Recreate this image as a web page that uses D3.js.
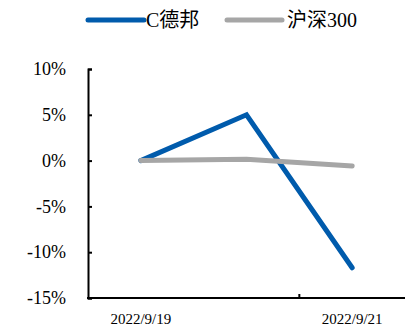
<!DOCTYPE html>
<html>
<head>
<meta charset="utf-8">
<script src="https://cdn.jsdelivr.net/npm/d3@7"></script>
<style>
  html, body { margin: 0; padding: 0; background: #fff; }
  svg { display: block; }
  svg text { font-family: "Liberation Serif", "Times New Roman", "Noto Sans CJK SC", serif; }
</style>
</head>
<body>
<svg id="chart" width="408" height="326"></svg>
<script>
// Trading days and cumulative returns (%)
const dates = ["2022/9/19", "2022/9/20", "2022/9/21"];
const debangValues = [0, 5.0, -11.7];
const hs300Values = [0, 0.15, -0.6];
const seriesNames = ["C德邦", "沪深300"];
const seriesColors = ["#005bac", "#a6a6a6"];
const yTicks = [10, 5, 0, -5, -10, -15];
const xLabelDates = ["2022/9/19", "2022/9/21"];

const svg = d3.select("#chart");
const margin = { left: 88, right: 3, top: 69, bottom: 28 };
const W = 408, H = 326;

const x = d3.scaleBand().domain(dates).range([margin.left, W - margin.right]);
const y = d3.scaleLinear().domain([-15, 10]).range([H - margin.bottom, margin.top]);

// y axis
const yAxis = svg.append("g")
  .attr("transform", `translate(${margin.left},0)`)
  .call(d3.axisLeft(y).tickValues(yTicks).tickFormat(d => d + "%").tickSize(-4).tickPadding(22));
yAxis.attr("font-family", null).attr("font-size", null);
yAxis.select(".domain").attr("stroke", "#000").attr("stroke-width", 2);
yAxis.selectAll(".tick line").attr("stroke", "#000").attr("stroke-width", 2);
yAxis.selectAll(".tick text")
  .attr("fill", "#000")
  .style("font-family", "'Liberation Serif', 'Times New Roman', serif")
  .style("font-size", "18px");

// x axis
const xAxisY = y(-15);
svg.append("line")
  .attr("x1", margin.left - 1).attr("x2", W - margin.right)
  .attr("y1", xAxisY).attr("y2", xAxisY)
  .attr("stroke", "#000").attr("stroke-width", 2);
// single tick mark at the boundary between the last two days
const tickX = x(dates[2]);
svg.append("line")
  .attr("x1", tickX).attr("x2", tickX)
  .attr("y1", xAxisY).attr("y2", xAxisY - 4)
  .attr("stroke", "#000").attr("stroke-width", 2);
svg.selectAll("text.xlab")
  .data(xLabelDates)
  .join("text")
  .attr("class", "xlab")
  .attr("x", d => x(d) + x.bandwidth() / 2)
  .attr("y", xAxisY + 26)
  .attr("text-anchor", "middle")
  .style("font-size", "15px")
  .attr("fill", "#000")
  .text(d => d);

// series lines: C德邦 first, index drawn over it
const line = d3.line()
  .x((d, i) => x(dates[i]) + x.bandwidth() / 2)
  .y(d => y(d));
[debangValues, hs300Values].forEach((vals, k) => {
  svg.append("path")
    .datum(vals)
    .attr("d", line)
    .attr("fill", "none")
    .attr("stroke", seriesColors[k])
    .attr("stroke-width", 5)
    .attr("stroke-linecap", "round")
    .attr("stroke-linejoin", "miter");
});

// legend
const legendItems = [
  { name: seriesNames[0], color: seriesColors[0], x0: 88, x1: 144, tx: 146 },
  { name: seriesNames[1], color: seriesColors[1], x0: 227, x1: 282, tx: 287 }
];
const lg = svg.append("g");
legendItems.forEach(it => {
  lg.append("line")
    .attr("x1", it.x0).attr("x2", it.x1)
    .attr("y1", 20).attr("y2", 20)
    .attr("stroke", it.color).attr("stroke-width", 5)
    .attr("stroke-linecap", "round");
  lg.append("text")
    .attr("x", it.tx).attr("y", 27)
    .style("font-size", "20px")
    .attr("fill", "#000")
    .text(it.name);
});
</script>
</body>
</html>
